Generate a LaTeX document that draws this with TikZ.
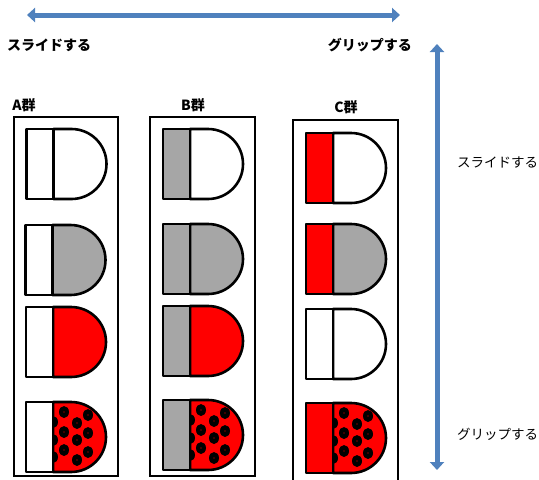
\documentclass[tikz,border=0pt]{standalone}
\usepackage{fontspec}
\newfontfamily\jpfont{Noto Sans CJK JP}
\usetikzlibrary{arrows.meta}
\usetikzlibrary{positioning}

\definecolor{arrowblue}{RGB}{79,129,189}
\definecolor{capgray}{RGB}{166,166,166}

\tikzset{
  capline/.style={draw=black, line width=2.6pt, line join=round},
  groupbox/.style={draw=black, line width=1.8pt},
  bigarrow/.style={arrowblue, line width=5pt, {Triangle[length=8pt,width=14pt]}-{Triangle[length=8pt,width=14pt]}},
  boldlabel/.style={font=\jpfont\bfseries\fontsize{14}{16}\selectfont, inner sep=0pt},
  sidelabel/.style={font=\jpfont\fontsize{13.5}{16}\selectfont, inner sep=0pt}
}

% x, y (top left), left fill, right fill
\newcommand{\capsule}[4]{%
  \filldraw[capline, fill=#4] (#1+27,#2) -- ++(18,0) arc[start angle=-90, end angle=90, radius=35] -- ++(-18,0) -- cycle;
  \filldraw[capline, fill=#3] (#1,#2) rectangle ++(27,70);
}
% x, y (top left), left fill -- dome red with black dots
\newcommand{\dotcapsule}[3]{%
  \begin{scope}
    \clip (#1+27,#2) -- ++(18,0) arc[start angle=-90, end angle=90, radius=35] -- ++(-18,0) -- cycle;
    \fill[red] (#1+20,#2-5) rectangle ++(70,80);
    \foreach \dx/\dy in {38/10, 62/13, 51/21, 38/30, 62/31, 51/38, 38/48, 62/50, 51/58, 27/20, 27/38, 27/55}
    {
      \fill[black] (#1+\dx,#2+\dy) ellipse[x radius=5, y radius=6];
      \fill[red] (#1+\dx,#2+\dy) circle[radius=0.7];
    }
  \end{scope}
  \draw[capline] (#1+27,#2) -- ++(18,0) arc[start angle=-90, end angle=90, radius=35] -- ++(-18,0) -- cycle;
  \filldraw[capline, fill=#3] (#1,#2) rectangle ++(27,70);
}

\begin{document}
\begin{tikzpicture}[x=1pt, y=-1pt]
  \useasboundingbox (0,0) rectangle (539,480);
  \begin{scope}
    \clip (0,0) rectangle (539,480);

    % arrows
    \coordinate (topL) at (27,15);
    \coordinate (topR) at (400,15);
    \coordinate (sideT) at (437,44);
    \coordinate (sideB) at (437,470);
    \draw[bigarrow] (topL) -- (topR);
    \draw[bigarrow] (sideT) -- (sideB);

    \node[boldlabel, anchor=west] (slideTop) at (7,45) {スライドする};
    \node[boldlabel, anchor=east] (gripTop) at (412,45) {グリップする};
    \node[sidelabel, anchor=west] (slideSide) at (457,163) {スライドする};
    \node[sidelabel, anchor=west] (gripSide) at (457,434) {グリップする};

    % groups
    \node[boldlabel] (grpA) at (24,105) {A群};
    \node[boldlabel] (grpB) at (193,105) {B群};
    \node[boldlabel] (grpC) at (346,107) {C群};

    \draw[groupbox] (14,117) rectangle (118,476);
    \draw[groupbox] (150,117) rectangle (255,476);
    \draw[groupbox] (293,120) rectangle (398,490);

    % A
    \capsule{26.5}{129}{white}{white}
    \capsule{25.5}{225}{white}{capgray}
    \capsule{26}{307}{white}{red}
    \dotcapsule{26}{402}{white}
    % B
    \capsule{163}{129}{capgray}{white}
    \capsule{163}{224}{capgray}{capgray}
    \capsule{163}{306}{capgray}{red}
    \dotcapsule{163}{400}{capgray}
    % C
    \capsule{306}{133}{red}{white}
    \capsule{306}{224}{red}{capgray}
    \capsule{306}{309}{white}{white}
    \dotcapsule{306}{403}{red}
  \end{scope}
\end{tikzpicture}
\end{document}
